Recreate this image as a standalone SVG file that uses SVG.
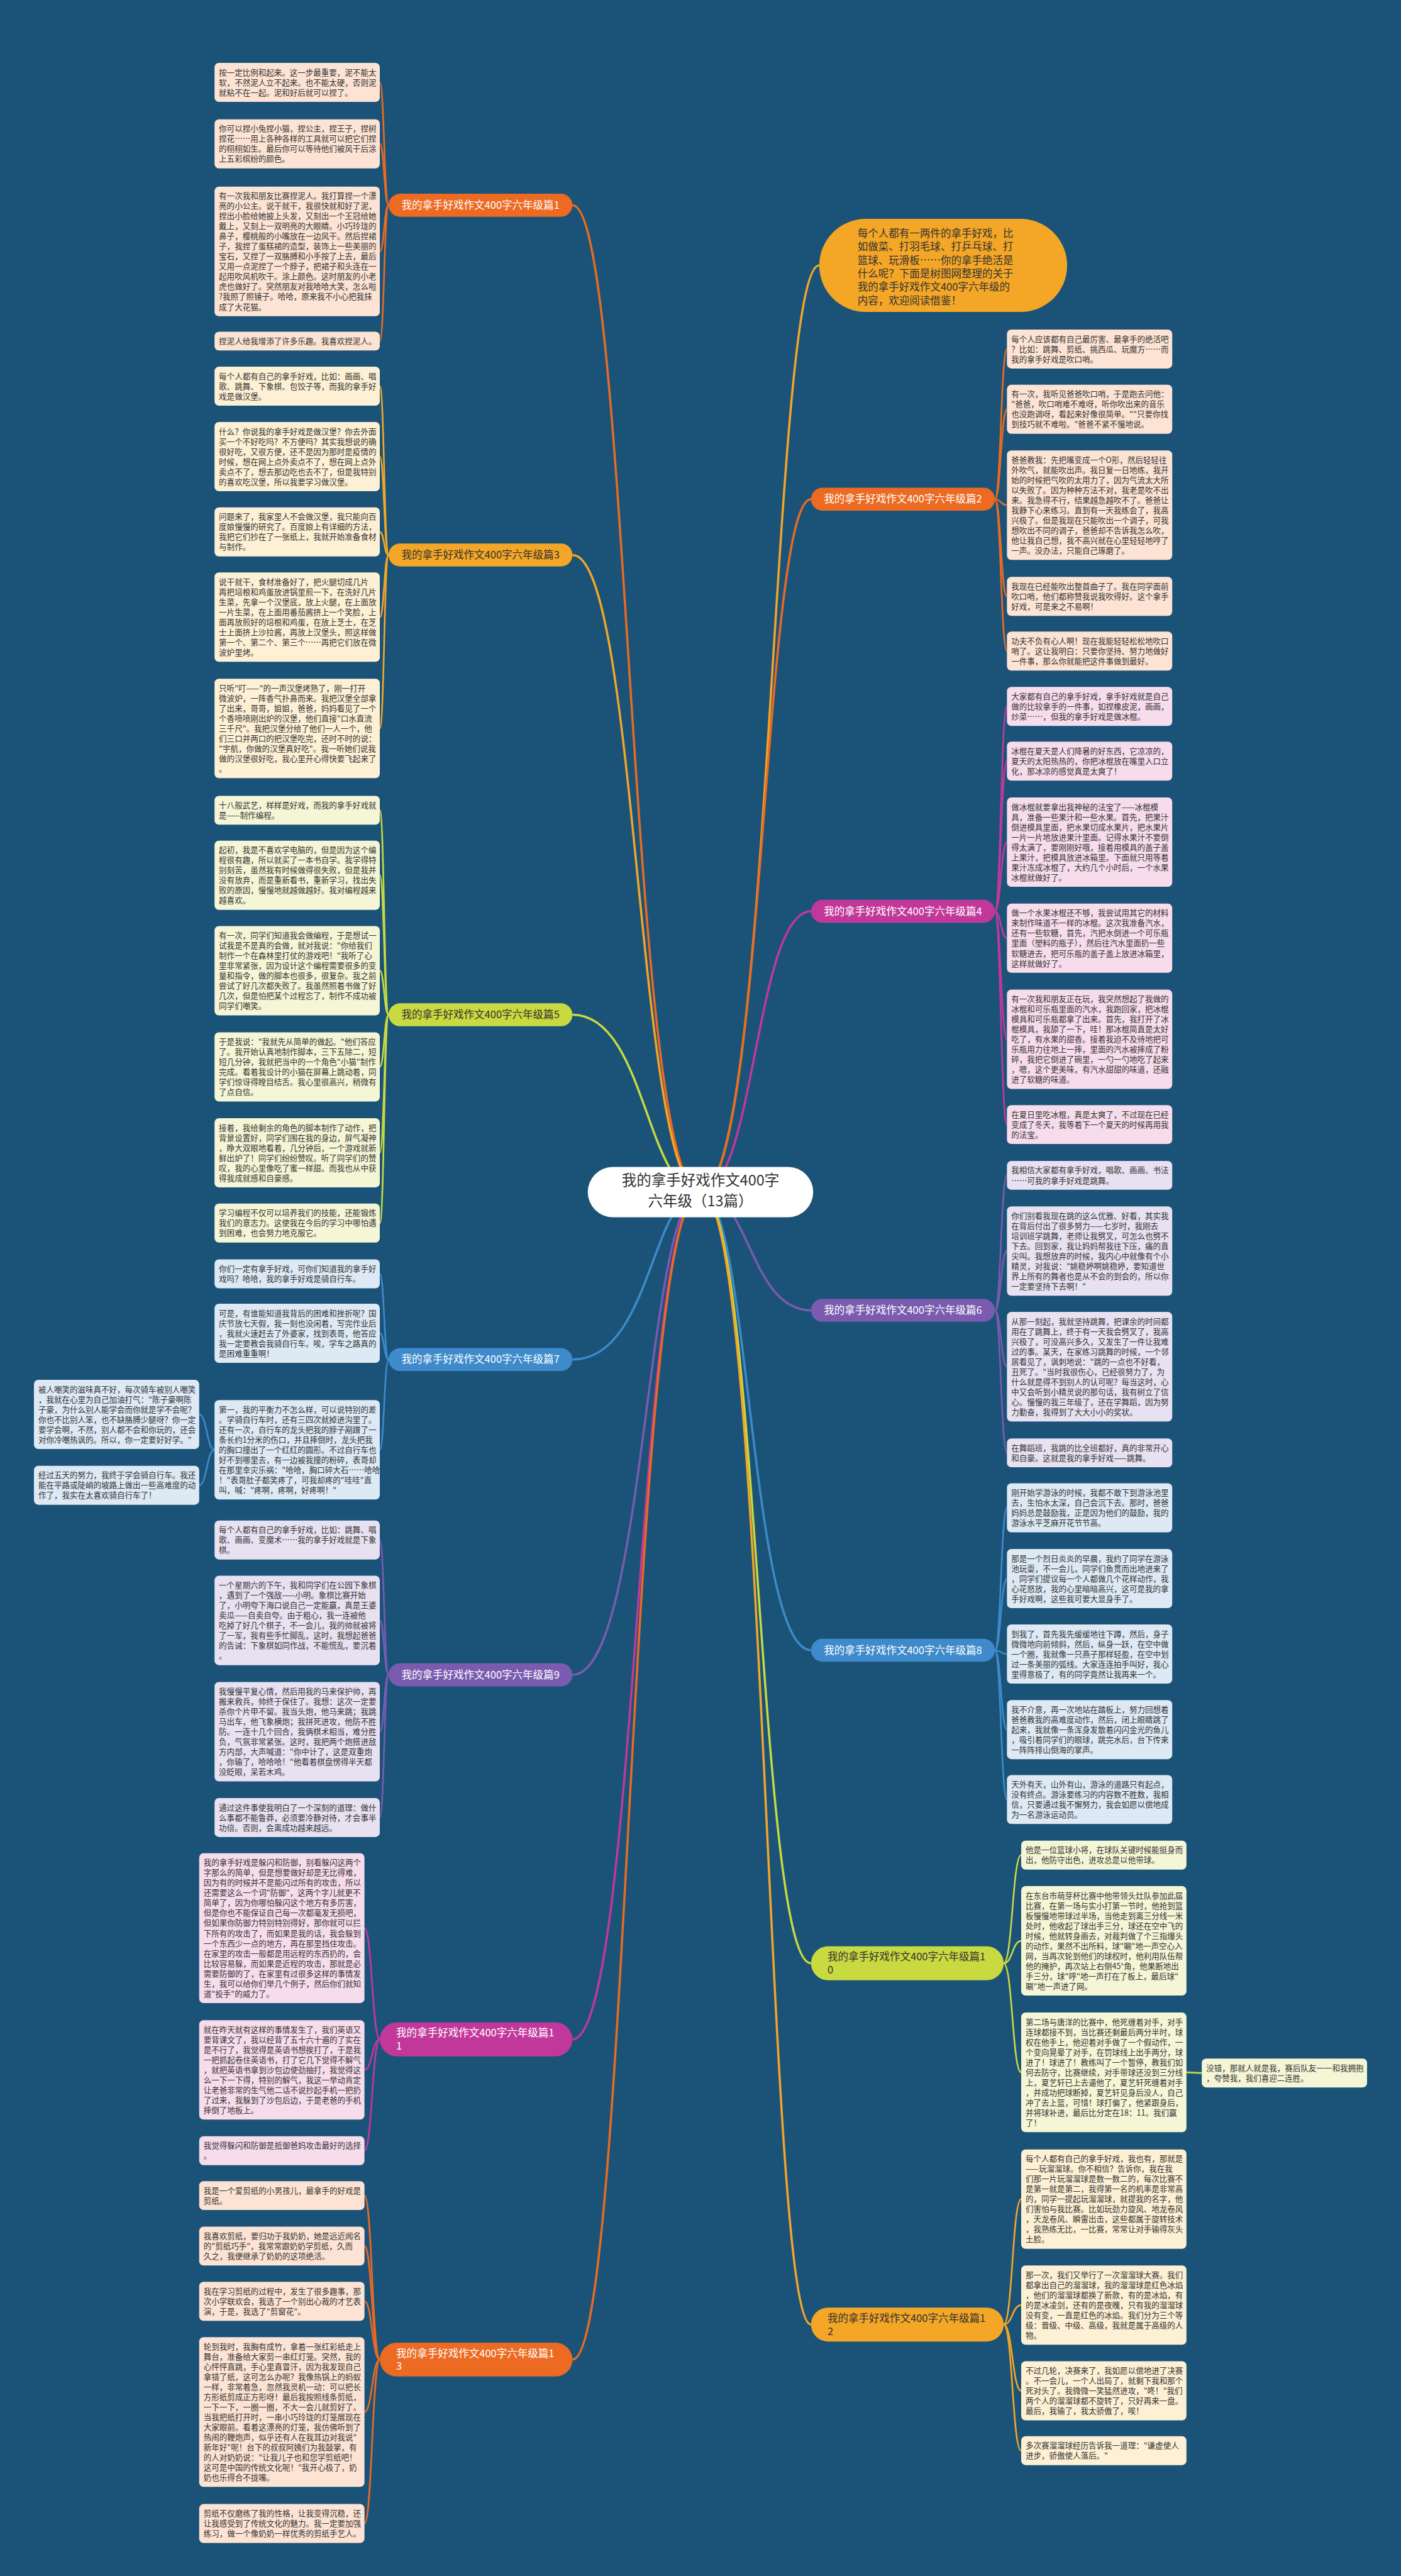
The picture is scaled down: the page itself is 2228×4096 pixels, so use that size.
<svg xmlns="http://www.w3.org/2000/svg" width="2228" height="4096" viewBox="0 0 2228 4096">
<style>
.t{font-family:"Noto Sans CJK SC","Noto Sans",sans-serif;font-size:14.4px;fill:#333}
.l{font-family:"Noto Sans CJK SC","Noto Sans",sans-serif;font-size:19px}
.w{fill:#fff}.d{fill:#333}
.f1{fill:#FDE3D3}.f2{fill:#FDF0D4}.f3{fill:#F5F6D6}.f4{fill:#DDE9F5}.f5{fill:#E7E1F1}.f6{fill:#F7DCEB}
.k1{fill:#EC6A21}.k2{fill:#F4A626}.k3{fill:#C8DA3F}.k4{fill:#3E8ACB}.k5{fill:#7A5BAF}.k6{fill:#C2389A}
.c{fill:none;stroke-width:3}
.c1{stroke:#EC6A21}.c2{stroke:#F4A626}.c3{stroke:#C8DA3F}.c4{stroke:#3E8ACB}.c5{stroke:#7A5BAF}.c6{stroke:#C2389A}
.r{stroke-width:4}
</style>
<rect width="2228" height="4096" fill="#1B5378"/>
<g transform="scale(0.8703)">
<g id="connectors">
<path class="c r c2" d="M1280,2178 C1410,2178 1410,485 1497,485"/>
<path class="c r c1" d="M1280,2178 C1395,2178 1395,912 1482,912"/>
<path class="c r c6" d="M1280,2178 C1380,2178 1380,1665 1482,1665"/>
<path class="c r c5" d="M1280,2178 C1370,2178 1370,2394 1482,2394"/>
<path class="c r c4" d="M1280,2178 C1370,2178 1370,3015 1482,3015"/>
<path class="c r c3" d="M1280,2178 C1385,2178 1385,3587 1482,3587"/>
<path class="c r c2" d="M1280,2178 C1400,2178 1400,4247 1482,4247"/>
<path class="c r c1" d="M1280,2178 C1150,2178 1150,375 1046,375"/>
<path class="c r c2" d="M1280,2178 C1165,2178 1165,1014 1046,1014"/>
<path class="c r c3" d="M1280,2178 C1180,2178 1180,1854 1046,1854"/>
<path class="c r c4" d="M1280,2178 C1190,2178 1190,2484 1046,2484"/>
<path class="c r c5" d="M1280,2178 C1180,2178 1180,3060 1046,3060"/>
<path class="c r c6" d="M1280,2178 C1165,2178 1165,3726 1046,3726"/>
<path class="c r c1" d="M1280,2178 C1150,2178 1150,4311 1046,4311"/>
<!-- 1 -->
<path class="c c1" d="M710,375 C702,375 702,150.6 694,150.6"/>
<path class="c c1" d="M710,375 C702,375 702,262.8 694,262.8"/>
<path class="c c1" d="M710,375 C702,375 702,459.4 694,459.4"/>
<path class="c c1" d="M710,375 C702,375 702,623.2 694,623.2"/>
<!-- 3 -->
<path class="c c2" d="M710,1014 C702,1014 702,705.6 694,705.6"/>
<path class="c c2" d="M710,1014 C702,1014 702,834.2 694,834.2"/>
<path class="c c2" d="M710,1014 C702,1014 702,971.8 694,971.8"/>
<path class="c c2" d="M710,1014 C702,1014 702,1127.6 694,1127.6"/>
<path class="c c2" d="M710,1014 C702,1014 702,1330.8 694,1330.8"/>
<!-- 5 -->
<path class="c c3" d="M710,1854 C702,1854 702,1480.4 694,1480.4"/>
<path class="c c3" d="M710,1854 C702,1854 702,1599.2 694,1599.2"/>
<path class="c c3" d="M710,1854 C702,1854 702,1773.6 694,1773.6"/>
<path class="c c3" d="M710,1854 C702,1854 702,1949.2 694,1949.2"/>
<path class="c c3" d="M710,1854 C702,1854 702,2106.2 694,2106.2"/>
<path class="c c3" d="M710,1854 C702,1854 702,2234.6 694,2234.6"/>
<!-- 7 -->
<path class="c c4" d="M710,2484 C702,2484 702,2327.4 694,2327.4"/>
<path class="c c4" d="M710,2484 C702,2484 702,2436 694,2436"/>
<path class="c c4" d="M710,2484 C702,2484 702,2648.8 694,2648.8"/>
<path class="c c4" d="M392,2648.8 C378,2648.8 378,2584.2 364,2584.2"/>
<path class="c c4" d="M392,2648.8 C378,2648.8 378,2713.6 364,2713.6"/>
<!-- 9 -->
<path class="c c5" d="M710,3060 C702,3060 702,2813.6 694,2813.6"/>
<path class="c c5" d="M710,3060 C702,3060 702,2960.6 694,2960.6"/>
<path class="c c5" d="M710,3060 C702,3060 702,3163.8 694,3163.8"/>
<path class="c c5" d="M710,3060 C702,3060 702,3320.6 694,3320.6"/>
<!-- 11 -->
<path class="c c6" d="M694,3726 C680,3726 680,3522.8 666,3522.8"/>
<path class="c c6" d="M694,3726 C680,3726 680,3781.8 666,3781.8"/>
<path class="c c6" d="M694,3726 C680,3726 680,3929.4 666,3929.4"/>
<!-- 13 -->
<path class="c c1" d="M694,4311 C680,4311 680,4011.4 666,4011.4"/>
<path class="c c1" d="M694,4311 C680,4311 680,4103.6 666,4103.6"/>
<path class="c c1" d="M694,4311 C680,4311 680,4204.6 666,4204.6"/>
<path class="c c1" d="M694,4311 C680,4311 680,4406.8 666,4406.8"/>
<path class="c c1" d="M694,4311 C680,4311 680,4610.6 666,4610.6"/>
<!-- 2 -->
<path class="c c1" d="M1818,912 C1829,912 1829,637.6 1840,637.6"/>
<path class="c c1" d="M1818,912 C1829,912 1829,747.8 1840,747.8"/>
<path class="c c1" d="M1818,912 C1829,912 1829,923 1840,923"/>
<path class="c c1" d="M1818,912 C1829,912 1829,1089.6 1840,1089.6"/>
<path class="c c1" d="M1818,912 C1829,912 1829,1189.6 1840,1189.6"/>
<!-- 4 -->
<path class="c c6" d="M1818,1665 C1829,1665 1829,1290.6 1840,1290.6"/>
<path class="c c6" d="M1818,1665 C1829,1665 1829,1390.6 1840,1390.6"/>
<path class="c c6" d="M1818,1665 C1829,1665 1829,1538.6 1840,1538.6"/>
<path class="c c6" d="M1818,1665 C1829,1665 1829,1714.2 1840,1714.2"/>
<path class="c c6" d="M1818,1665 C1829,1665 1829,1898.8 1840,1898.8"/>
<path class="c c6" d="M1818,1665 C1829,1665 1829,2054.6 1840,2054.6"/>
<!-- 6 -->
<path class="c c5" d="M1818,2394 C1829,2394 1829,2147.4 1840,2147.4"/>
<path class="c c5" d="M1818,2394 C1829,2394 1829,2285.6 1840,2285.6"/>
<path class="c c5" d="M1818,2394 C1829,2394 1829,2497 1840,2497"/>
<path class="c c5" d="M1818,2394 C1829,2394 1829,2654.4 1840,2654.4"/>
<!-- 8 -->
<path class="c c4" d="M1818,3015 C1829,3015 1829,2754.8 1840,2754.8"/>
<path class="c c4" d="M1818,3015 C1829,3015 1829,2884 1840,2884"/>
<path class="c c4" d="M1818,3015 C1829,3015 1829,3022 1840,3022"/>
<path class="c c4" d="M1818,3015 C1829,3015 1829,3160 1840,3160"/>
<path class="c c4" d="M1818,3015 C1829,3015 1829,3287.8 1840,3287.8"/>
<!-- 10 -->
<path class="c c3" d="M1834,3587 C1850,3587 1850,3389.4 1866,3389.4"/>
<path class="c c3" d="M1834,3587 C1850,3587 1850,3546 1866,3546"/>
<path class="c c3" d="M1834,3587 C1850,3587 1850,3786.2 1866,3786.2"/>
<path class="c c3" d="M2168,3786.2 C2182,3786.2 2182,3787.4 2196,3787.4"/>
<!-- 12 -->
<path class="c c2" d="M1834,4247 C1850,4247 1850,4017.8 1866,4017.8"/>
<path class="c c2" d="M1834,4247 C1850,4247 1850,4211.4 1866,4211.4"/>
<path class="c c2" d="M1834,4247 C1850,4247 1850,4368 1866,4368"/>
<path class="c c2" d="M1834,4247 C1850,4247 1850,4477.4 1866,4477.4"/>
</g>

<g id="root">
<rect x="1074" y="2132" width="412" height="92" rx="46" fill="#fff"/>
<text class="l" x="1280" y="2166" text-anchor="middle" style="font-size:27px" fill="#333">我的拿手好戏作文400字</text>
<text class="l" x="1280" y="2204" text-anchor="middle" style="font-size:27px" fill="#333">六年级（13篇）</text>
</g>

<g id="intro">
<rect x="1497" y="400" width="453" height="170" rx="85" class="k2"/>
<text class="l d" x="1567" y="433"><tspan x="1567">每个人都有一两件的拿手好戏，比</tspan><tspan x="1567" dy="24.6">如做菜、打羽毛球、打乒乓球、打</tspan><tspan x="1567" dy="24.6">篮球、玩滑板……你的拿手绝活是</tspan><tspan x="1567" dy="24.6">什么呢？下面是树图网整理的关于</tspan><tspan x="1567" dy="24.6">我的拿手好戏作文400字六年级的</tspan><tspan x="1567" dy="24.6">内容，欢迎阅读借鉴！</tspan></text>
</g>

<!-- Branch labels -->
<g id="b1"><rect x="710" y="354" width="336" height="42" rx="21" class="k1"/><text class="l w" x="878" y="381.5" text-anchor="middle">我的拿手好戏作文400字六年级篇1</text></g>
<g id="b3"><rect x="710" y="993" width="336" height="42" rx="21" class="k2"/><text class="l d" x="878" y="1020.5" text-anchor="middle">我的拿手好戏作文400字六年级篇3</text></g>
<g id="b5"><rect x="710" y="1833" width="336" height="42" rx="21" class="k3"/><text class="l d" x="878" y="1860.5" text-anchor="middle">我的拿手好戏作文400字六年级篇5</text></g>
<g id="b7"><rect x="710" y="2463" width="336" height="42" rx="21" class="k4"/><text class="l w" x="878" y="2490.5" text-anchor="middle">我的拿手好戏作文400字六年级篇7</text></g>
<g id="b9"><rect x="710" y="3039" width="336" height="42" rx="21" class="k5"/><text class="l w" x="878" y="3066.5" text-anchor="middle">我的拿手好戏作文400字六年级篇9</text></g>
<g id="b11"><rect x="694" y="3695" width="352" height="62" rx="31" class="k6"/><text class="l w" x="724" y="3721"><tspan x="724">我的拿手好戏作文400字六年级篇1</tspan><tspan x="724" dy="24">1</tspan></text></g>
<g id="b13"><rect x="694" y="4280" width="352" height="62" rx="31" class="k1"/><text class="l w" x="724" y="4306"><tspan x="724">我的拿手好戏作文400字六年级篇1</tspan><tspan x="724" dy="24">3</tspan></text></g>
<g id="b2"><rect x="1482" y="891" width="336" height="42" rx="21" class="k1"/><text class="l w" x="1650" y="918.5" text-anchor="middle">我的拿手好戏作文400字六年级篇2</text></g>
<g id="b4"><rect x="1482" y="1644" width="336" height="42" rx="21" class="k6"/><text class="l w" x="1650" y="1671.5" text-anchor="middle">我的拿手好戏作文400字六年级篇4</text></g>
<g id="b6"><rect x="1482" y="2373" width="336" height="42" rx="21" class="k5"/><text class="l w" x="1650" y="2400.5" text-anchor="middle">我的拿手好戏作文400字六年级篇6</text></g>
<g id="b8"><rect x="1482" y="2994" width="336" height="42" rx="21" class="k4"/><text class="l w" x="1650" y="3021.5" text-anchor="middle">我的拿手好戏作文400字六年级篇8</text></g>
<g id="b10"><rect x="1482" y="3556" width="352" height="62" rx="31" class="k3"/><text class="l d" x="1512" y="3582"><tspan x="1512">我的拿手好戏作文400字六年级篇1</tspan><tspan x="1512" dy="24">0</tspan></text></g>
<g id="b12"><rect x="1482" y="4216" width="352" height="62" rx="31" class="k2"/><text class="l d" x="1512" y="4242"><tspan x="1512">我的拿手好戏作文400字六年级篇1</tspan><tspan x="1512" dy="24">2</tspan></text></g>

<!-- 篇1 children -->
<g id="n1a"><rect x="392" y="115" width="302" height="71.2" rx="8" class="f1"/><text class="t" x="400" y="137.5"><tspan x="400">按一定比例和起来。这一步最重要，泥不能太</tspan><tspan x="400" dy="18.4">软，不然泥人立不起来。也不能太硬，否则泥</tspan><tspan x="400" dy="18.4">就粘不在一起。泥和好后就可以捏了。</tspan></text></g>
<g id="n1b"><rect x="392" y="218" width="302" height="89.6" rx="8" class="f1"/><text class="t" x="400" y="240.5"><tspan x="400">你可以捏小兔捏小猫，捏公主，捏王子，捏树</tspan><tspan x="400" dy="18.4">捏花……用上各种各样的工具就可以把它们捏</tspan><tspan x="400" dy="18.4">的栩栩如生。最后你可以等待他们被风干后涂</tspan><tspan x="400" dy="18.4">上五彩缤纷的颜色。</tspan></text></g>
<g id="n1c"><rect x="392" y="341" width="302" height="236.8" rx="8" class="f1"/><text class="t" x="400" y="363.5"><tspan x="400">有一次我和朋友比赛捏泥人。我打算捏一个漂</tspan><tspan x="400" dy="18.4">亮的小公主。说干就干，我很快就和好了泥，</tspan><tspan x="400" dy="18.4">捏出小脸给她披上头发，又刻出一个王冠给她</tspan><tspan x="400" dy="18.4">戴上，又刻上一双明亮的大眼睛。小巧玲珑的</tspan><tspan x="400" dy="18.4">鼻子，樱桃般的小嘴放在一边风干。然后捏裙</tspan><tspan x="400" dy="18.4">子，我捏了蛋糕裙的造型，装饰上一些美丽的</tspan><tspan x="400" dy="18.4">宝石，又捏了一双胳膊和小手按了上去，最后</tspan><tspan x="400" dy="18.4">又用一点泥捏了一个脖子，把裙子和头连在一</tspan><tspan x="400" dy="18.4">起用吹风机吹干。涂上颜色。这时朋友的小老</tspan><tspan x="400" dy="18.4">虎也做好了。突然朋友对我哈哈大笑，怎么啦</tspan><tspan x="400" dy="18.4">?我照了照镜子。哈哈，原来我不小心把我抹</tspan><tspan x="400" dy="18.4">成了大花猫。</tspan></text></g>
<g id="n1d"><rect x="392" y="606" width="302" height="34.4" rx="8" class="f1"/><text class="t" x="400" y="628.5">捏泥人给我增添了许多乐趣。我喜欢捏泥人。</text></g>

<!-- 篇3 children -->
<g id="n3a"><rect x="392" y="670" width="302" height="71.2" rx="8" class="f2"/><text class="t" x="400" y="692.5"><tspan x="400">每个人都有自己的拿手好戏，比如：画画、唱</tspan><tspan x="400" dy="18.4">歌、跳舞、下象棋、包饺子等，而我的拿手好</tspan><tspan x="400" dy="18.4">戏是做汉堡。</tspan></text></g>
<g id="n3b"><rect x="392" y="771" width="302" height="126.4" rx="8" class="f2"/><text class="t" x="400" y="793.5"><tspan x="400">什么？你说我的拿手好戏是做汉堡？你去外面</tspan><tspan x="400" dy="18.4">买一个不好吃吗？不方便吗？其实我想说的确</tspan><tspan x="400" dy="18.4">很好吃，又很方便，还不是因为那时是疫情的</tspan><tspan x="400" dy="18.4">时候，想在网上点外卖点不了，想在网上点外</tspan><tspan x="400" dy="18.4">卖点不了，想去那边吃也去不了，但是我特别</tspan><tspan x="400" dy="18.4">的喜欢吃汉堡，所以我要学习做汉堡。</tspan></text></g>
<g id="n3c"><rect x="392" y="927" width="302" height="89.6" rx="8" class="f2"/><text class="t" x="400" y="949.5"><tspan x="400">问题来了，我家里人不会做汉堡，我只能向百</tspan><tspan x="400" dy="18.4">度娘慢慢的研究了。百度娘上有详细的方法，</tspan><tspan x="400" dy="18.4">我把它们抄在了一张纸上，我就开始准备食材</tspan><tspan x="400" dy="18.4">与制作。</tspan></text></g>
<g id="n3d"><rect x="392" y="1046" width="302" height="163.2" rx="8" class="f2"/><text class="t" x="400" y="1068.5"><tspan x="400">说干就干，食材准备好了，把火腿切成几片</tspan><tspan x="400" dy="18.4">再把培根和鸡蛋放进锅里煎一下，在洗好几片</tspan><tspan x="400" dy="18.4">生菜，先拿一个汉堡底，放上火腿，在上面放</tspan><tspan x="400" dy="18.4">一片生菜，在上面用番茄酱挤上一个笑脸，上</tspan><tspan x="400" dy="18.4">面再放煎好的培根和鸡蛋，在放上芝士，在芝</tspan><tspan x="400" dy="18.4">士上面挤上沙拉酱，再放上汉堡头，照这样做</tspan><tspan x="400" dy="18.4">第一个、第二个、第三个……再把它们放在微</tspan><tspan x="400" dy="18.4">波炉里烤。</tspan></text></g>
<g id="n3e"><rect x="392" y="1240" width="302" height="181.6" rx="8" class="f2"/><text class="t" x="400" y="1262.5"><tspan x="400">只听"叮——"的一声汉堡烤熟了，刚一打开</tspan><tspan x="400" dy="18.4">微波炉，一阵香气扑鼻而来。我把汉堡全部拿</tspan><tspan x="400" dy="18.4">了出来，哥哥，姐姐，爸爸，妈妈看见了一个</tspan><tspan x="400" dy="18.4">个香喷喷刚出炉的汉堡，他们直接"口水直流</tspan><tspan x="400" dy="18.4">三千尺"。我把汉堡分给了他们一人一个，他</tspan><tspan x="400" dy="18.4">们三口并两口的把汉堡吃完，还时不时的说：</tspan><tspan x="400" dy="18.4">"宇航，你做的汉堡真好吃"。我一听她们说我</tspan><tspan x="400" dy="18.4">做的汉堡很好吃，我心里开心得快要飞起来了</tspan><tspan x="400" dy="18.4">。</tspan></text></g>

<!-- 篇5 children -->
<g id="n5a"><rect x="392" y="1454" width="302" height="52.8" rx="8" class="f3"/><text class="t" x="400" y="1476.5"><tspan x="400">十八般武艺，样样是好戏，而我的拿手好戏就</tspan><tspan x="400" dy="18.4">是——制作编程。</tspan></text></g>
<g id="n5b"><rect x="392" y="1536" width="302" height="126.4" rx="8" class="f3"/><text class="t" x="400" y="1558.5"><tspan x="400">起初，我是不喜欢学电脑的，但是因为这个编</tspan><tspan x="400" dy="18.4">程很有趣，所以就买了一本书自学。我学得特</tspan><tspan x="400" dy="18.4">别刻苦，虽然我有时候做得很失败，但是我并</tspan><tspan x="400" dy="18.4">没有放弃，而是重新看书，重新学习，找出失</tspan><tspan x="400" dy="18.4">败的原因，慢慢地就越做越好。我对编程越来</tspan><tspan x="400" dy="18.4">越喜欢。</tspan></text></g>
<g id="n5c"><rect x="392" y="1692" width="302" height="163.2" rx="8" class="f3"/><text class="t" x="400" y="1714.5"><tspan x="400">有一次，同学们知道我会做编程，于是想试一</tspan><tspan x="400" dy="18.4">试我是不是真的会做，就对我说："你给我们</tspan><tspan x="400" dy="18.4">制作一个在森林里打仗的游戏吧！"我听了心</tspan><tspan x="400" dy="18.4">里非常紧张，因为设计这个编程需要很多的变</tspan><tspan x="400" dy="18.4">量和指令，做的脚本也很多，很复杂。我之前</tspan><tspan x="400" dy="18.4">尝试了好几次都失败了。我虽然照着书做了好</tspan><tspan x="400" dy="18.4">几次，但是怕把某个过程忘了，制作不成功被</tspan><tspan x="400" dy="18.4">同学们嘲笑。</tspan></text></g>
<g id="n5d"><rect x="392" y="1886" width="302" height="126.4" rx="8" class="f3"/><text class="t" x="400" y="1908.5"><tspan x="400">于是我说："我就先从简单的做起。"他们答应</tspan><tspan x="400" dy="18.4">了。我开始认真地制作脚本，三下五除二，短</tspan><tspan x="400" dy="18.4">短几分钟，我就把当中的一个角色"小猫"制作</tspan><tspan x="400" dy="18.4">完成。看着我设计的小猫在屏幕上跳动着，同</tspan><tspan x="400" dy="18.4">学们惊讶得瞠目结舌。我心里很高兴，稍微有</tspan><tspan x="400" dy="18.4">了点自信。</tspan></text></g>
<g id="n5e"><rect x="392" y="2043" width="302" height="126.4" rx="8" class="f3"/><text class="t" x="400" y="2065.5"><tspan x="400">接着，我给剩余的角色的脚本制作了动作，把</tspan><tspan x="400" dy="18.4">背景设置好，同学们围在我的身边，屏气凝神</tspan><tspan x="400" dy="18.4">，睁大双眼地看着，几分钟后，一个游戏就新</tspan><tspan x="400" dy="18.4">鲜出炉了！同学们纷纷赞叹。听了同学们的赞</tspan><tspan x="400" dy="18.4">叹，我的心里像吃了蜜一样甜。而我也从中获</tspan><tspan x="400" dy="18.4">得我成就感和自豪感。</tspan></text></g>
<g id="n5f"><rect x="392" y="2199" width="302" height="71.2" rx="8" class="f3"/><text class="t" x="400" y="2221.5"><tspan x="400">学习编程不仅可以培养我们的技能，还能锻炼</tspan><tspan x="400" dy="18.4">我们的意志力。这使我在今后的学习中哪怕遇</tspan><tspan x="400" dy="18.4">到困难，也会努力地克服它。</tspan></text></g>

<!-- 篇7 children -->
<g id="n7a"><rect x="392" y="2301" width="302" height="52.8" rx="8" class="f4"/><text class="t" x="400" y="2323.5"><tspan x="400">你们一定有拿手好戏，可你们知道我的拿手好</tspan><tspan x="400" dy="18.4">戏吗？哈哈，我的拿手好戏是骑自行车。</tspan></text></g>
<g id="n7b"><rect x="392" y="2382" width="302" height="108" rx="8" class="f4"/><text class="t" x="400" y="2404.5"><tspan x="400">可是，有谁能知道我背后的困难和挫折呢？国</tspan><tspan x="400" dy="18.4">庆节放七天假，我一刻也没闲着，写完作业后</tspan><tspan x="400" dy="18.4">，我就火速赶去了外婆家，找到表哥，他答应</tspan><tspan x="400" dy="18.4">我一定要教会我骑自行车。唉，学车之路真的</tspan><tspan x="400" dy="18.4">是困难重重啊！</tspan></text></g>
<g id="n7c"><rect x="392" y="2558" width="302" height="181.6" rx="8" class="f4"/><text class="t" x="400" y="2580.5"><tspan x="400">第一，我的平衡力不怎么样，可以说特别的差</tspan><tspan x="400" dy="18.4">。学骑自行车时，还有三四次就掉进沟里了。</tspan><tspan x="400" dy="18.4">还有一次，自行车的龙头把我的脖子剐蹭了一</tspan><tspan x="400" dy="18.4">条长约1分米的伤口，并且摔倒时，龙头把我</tspan><tspan x="400" dy="18.4">的胸口撞出了一个红红的圆形。不过自行车也</tspan><tspan x="400" dy="18.4">好不到哪里去，有一边被我撞的粉碎，表哥却</tspan><tspan x="400" dy="18.4">在那里幸灾乐祸："哈哈，胸口碎大石……哈哈</tspan><tspan x="400" dy="18.4">！"表哥肚子都笑疼了，可我却疼的"哇哇"直</tspan><tspan x="400" dy="18.4">叫，喊："疼啊，疼啊，好疼啊！"</tspan></text></g>
<g id="n7c1"><rect x="62" y="2521" width="302" height="126.4" rx="8" class="f4"/><text class="t" x="70" y="2543.5"><tspan x="70">被人嘲笑的滋味真不好，每次骑车被别人嘲笑</tspan><tspan x="70" dy="18.4">，我就在心里为自己加油打气："陈子豪啊陈</tspan><tspan x="70" dy="18.4">子豪，为什么别人能学会而你就是学不会呢？</tspan><tspan x="70" dy="18.4">你也不比别人笨，也不缺胳膊少腿呀？你一定</tspan><tspan x="70" dy="18.4">要学会啊，不然，别人都不会和你玩的，还会</tspan><tspan x="70" dy="18.4">对你冷嘲热讽的。所以，你一定要好好学。"</tspan></text></g>
<g id="n7c2"><rect x="62" y="2678" width="302" height="71.2" rx="8" class="f4"/><text class="t" x="70" y="2700.5"><tspan x="70">经过五天的努力，我终于学会骑自行车。我还</tspan><tspan x="70" dy="18.4">能在平路或陡峭的坡路上做出一些高难度的动</tspan><tspan x="70" dy="18.4">作了，我实在太喜欢骑自行车了！</tspan></text></g>

<!-- 篇9 children -->
<g id="n9a"><rect x="392" y="2778" width="302" height="71.2" rx="8" class="f5"/><text class="t" x="400" y="2800.5"><tspan x="400">每个人都有自己的拿手好戏，比如：跳舞、唱</tspan><tspan x="400" dy="18.4">歌、画画、变魔术……我的拿手好戏就是下象</tspan><tspan x="400" dy="18.4">棋。</tspan></text></g>
<g id="n9b"><rect x="392" y="2879" width="302" height="163.2" rx="8" class="f5"/><text class="t" x="400" y="2901.5"><tspan x="400">一个星期六的下午，我和同学们在公园下象棋</tspan><tspan x="400" dy="18.4">，遇到了一个强敌——小明。象棋比赛开始</tspan><tspan x="400" dy="18.4">了，小明夸下海口说自己一定能赢，真是王婆</tspan><tspan x="400" dy="18.4">卖瓜——自卖自夸。由于粗心，我一连被他</tspan><tspan x="400" dy="18.4">吃掉了好几个棋子，不一会儿，我的帅就被将</tspan><tspan x="400" dy="18.4">了一军，我有些手忙脚乱，这时，我想起爸爸</tspan><tspan x="400" dy="18.4">的告诫：下象棋如同作战，不能慌乱，要沉着</tspan><tspan x="400" dy="18.4">。</tspan></text></g>
<g id="n9c"><rect x="392" y="3073" width="302" height="181.6" rx="8" class="f5"/><text class="t" x="400" y="3095.5"><tspan x="400">我慢慢平复心情，然后用我的马来保护帅，再</tspan><tspan x="400" dy="18.4">搬来救兵，帅终于保住了。我想：这次一定要</tspan><tspan x="400" dy="18.4">杀你个片甲不留。我当头炮，他马来跳；我跳</tspan><tspan x="400" dy="18.4">马出车，他飞象横炮；我拼死进攻，他防不胜</tspan><tspan x="400" dy="18.4">防。一连十几个回合，我俩棋术相当，难分胜</tspan><tspan x="400" dy="18.4">负，气氛非常紧张。这时，我把两个炮搭进敌</tspan><tspan x="400" dy="18.4">方内部，大声喊道："你中计了，这是双重炮</tspan><tspan x="400" dy="18.4">，你输了，哈哈哈！"他看着棋盘愣得半天都</tspan><tspan x="400" dy="18.4">没眨眼，呆若木鸡。</tspan></text></g>
<g id="n9d"><rect x="392" y="3285" width="302" height="71.2" rx="8" class="f5"/><text class="t" x="400" y="3307.5"><tspan x="400">通过这件事使我明白了一个深刻的道理：做什</tspan><tspan x="400" dy="18.4">么事都不能鲁莽，必须要冷静对待，才会事半</tspan><tspan x="400" dy="18.4">功倍。否则，会离成功越来越远。</tspan></text></g>

<!-- 篇11 children -->
<g id="n11a"><rect x="364" y="3386" width="302" height="273.6" rx="8" class="f6"/><text class="t" x="372" y="3408.5"><tspan x="372">我的拿手好戏是躲闪和防御，别看躲闪这两个</tspan><tspan x="372" dy="18.4">字那么的简单，但是想要做好却是无比得难，</tspan><tspan x="372" dy="18.4">因为有的时候并不是能闪过所有的攻击，所以</tspan><tspan x="372" dy="18.4">还需要这么一个词"防御"，这两个字儿就更不</tspan><tspan x="372" dy="18.4">简单了，因为你哪怕躲闪这个地方有多厉害，</tspan><tspan x="372" dy="18.4">但是你也不能保证自己每一次都毫发无损吧，</tspan><tspan x="372" dy="18.4">但如果你防御力特别特别得好，那你就可以拦</tspan><tspan x="372" dy="18.4">下所有的攻击了，而如果是我的话，我会躲到</tspan><tspan x="372" dy="18.4">一个东西少一点的地方，再在那里挡住攻击。</tspan><tspan x="372" dy="18.4">在家里的攻击一般都是用远程的东西扔的，会</tspan><tspan x="372" dy="18.4">比较容易躲，而如果是近程的攻击，那就是必</tspan><tspan x="372" dy="18.4">需要防御的了，在家里有过很多这样的事情发</tspan><tspan x="372" dy="18.4">生，我可以给你们举几个例子，然后你们就知</tspan><tspan x="372" dy="18.4">道"投手"的威力了。</tspan></text></g>
<g id="n11b"><rect x="364" y="3691" width="302" height="181.6" rx="8" class="f6"/><text class="t" x="372" y="3713.5"><tspan x="372">就在昨天就有这样的事情发生了，我们英语又</tspan><tspan x="372" dy="18.4">要背课文了，我以经背了五十六十遍的了实在</tspan><tspan x="372" dy="18.4">是不行了，我觉得是英语书想挨打了，于是我</tspan><tspan x="372" dy="18.4">一把抓起卷住英语书，打了它几下觉得不解气</tspan><tspan x="372" dy="18.4">，就把英语书拿到沙包边使劲抽打，我觉得这</tspan><tspan x="372" dy="18.4">么一下一下得，特别的解气，我这一举动肯定</tspan><tspan x="372" dy="18.4">让老爸非常的生气他二话不说抄起手机一把扔</tspan><tspan x="372" dy="18.4">了过来，我躲到了沙包后边，于是老爸的手机</tspan><tspan x="372" dy="18.4">摔倒了地板上。</tspan></text></g>
<g id="n11c"><rect x="364" y="3903" width="302" height="52.8" rx="8" class="f6"/><text class="t" x="372" y="3925.5"><tspan x="372">我觉得躲闪和防御是抵御爸妈攻击最好的选择</tspan><tspan x="372" dy="18.4">。</tspan></text></g>

<!-- 篇13 children -->
<g id="n13a"><rect x="364" y="3985" width="302" height="52.8" rx="8" class="f1"/><text class="t" x="372" y="4007.5"><tspan x="372">我是一个爱剪纸的小男孩儿，最拿手的好戏是</tspan><tspan x="372" dy="18.4">剪纸。</tspan></text></g>
<g id="n13b"><rect x="364" y="4068" width="302" height="71.2" rx="8" class="f1"/><text class="t" x="372" y="4090.5"><tspan x="372">我喜欢剪纸，要归功于我奶奶，她是远近闻名</tspan><tspan x="372" dy="18.4">的"剪纸巧手"，我常常跟奶奶学剪纸，久而</tspan><tspan x="372" dy="18.4">久之，我便继承了奶奶的这项绝活。</tspan></text></g>
<g id="n13c"><rect x="364" y="4169" width="302" height="71.2" rx="8" class="f1"/><text class="t" x="372" y="4191.5"><tspan x="372">我在学习剪纸的过程中，发生了很多趣事，那</tspan><tspan x="372" dy="18.4">次小学联欢会，我选了一个别出心裁的才艺表</tspan><tspan x="372" dy="18.4">演，于是，我选了"剪窗花"。</tspan></text></g>
<g id="n13d"><rect x="364" y="4270" width="302" height="273.6" rx="8" class="f1"/><text class="t" x="372" y="4292.5"><tspan x="372">轮到我时，我胸有成竹，拿着一张红彩纸走上</tspan><tspan x="372" dy="18.4">舞台，准备给大家剪一串红灯笼。突然，我的</tspan><tspan x="372" dy="18.4">心怦怦直跳，手心里直冒汗，因为我发现自己</tspan><tspan x="372" dy="18.4">拿错了纸，这可怎么办呢？我像热锅上的蚂蚁</tspan><tspan x="372" dy="18.4">一样，非常着急，忽然我灵机一动：可以把长</tspan><tspan x="372" dy="18.4">方形纸剪成正方形呀！最后我按照线条剪纸，</tspan><tspan x="372" dy="18.4">一下一下，一圈一圈，不大一会儿就剪好了。</tspan><tspan x="372" dy="18.4">当我把纸打开时，一串小巧玲珑的灯笼展现在</tspan><tspan x="372" dy="18.4">大家眼前。看着这漂亮的灯笼，我仿佛听到了</tspan><tspan x="372" dy="18.4">热闹的鞭炮声，似乎还有人在我耳边对我说"</tspan><tspan x="372" dy="18.4">新年好"呢！台下的叔叔阿姨们为我鼓掌，有</tspan><tspan x="372" dy="18.4">的人对奶奶说："让我儿子也和您学剪纸吧！</tspan><tspan x="372" dy="18.4">这可是中国的传统文化呢！"我开心极了，奶</tspan><tspan x="372" dy="18.4">奶也乐得合不拢嘴。</tspan></text></g>
<g id="n13e"><rect x="364" y="4575" width="302" height="71.2" rx="8" class="f1"/><text class="t" x="372" y="4597.5"><tspan x="372">剪纸不仅磨练了我的性格，让我变得沉稳，还</tspan><tspan x="372" dy="18.4">让我感受到了传统文化的魅力。我一定要加强</tspan><tspan x="372" dy="18.4">练习，做一个像奶奶一样优秀的剪纸手艺人。</tspan></text></g>

<!-- 篇2 children -->
<g id="n2a"><rect x="1840" y="602" width="302" height="71.2" rx="8" class="f1"/><text class="t" x="1848" y="624.5"><tspan x="1848">每个人应该都有自己最厉害、最拿手的绝活吧</tspan><tspan x="1848" dy="18.4">？比如：跳舞、剪纸、挑西瓜、玩魔方……而</tspan><tspan x="1848" dy="18.4">我的拿手好戏是吹口哨。</tspan></text></g>
<g id="n2b"><rect x="1840" y="703" width="302" height="89.6" rx="8" class="f1"/><text class="t" x="1848" y="725.5"><tspan x="1848">有一次，我听见爸爸吹口哨，于是跑去问他：</tspan><tspan x="1848" dy="18.4">"爸爸，吹口哨难不难呀，听你吹出来的音乐</tspan><tspan x="1848" dy="18.4">也没跑调呀，看起来好像很简单。""只要你找</tspan><tspan x="1848" dy="18.4">到技巧就不难啦。"爸爸不紧不慢地说。</tspan></text></g>
<g id="n2c"><rect x="1840" y="823" width="302" height="200" rx="8" class="f1"/><text class="t" x="1848" y="845.5"><tspan x="1848">爸爸教我：先把嘴变成一个O形，然后轻轻往</tspan><tspan x="1848" dy="18.4">外吹气，就能吹出声。我日复一日地练，我开</tspan><tspan x="1848" dy="18.4">始的时候把气吹的太用力了，因为气流太大所</tspan><tspan x="1848" dy="18.4">以失败了。因为种种方法不对，我老是吹不出</tspan><tspan x="1848" dy="18.4">来。我急得不行，结果越急越吹不了。爸爸让</tspan><tspan x="1848" dy="18.4">我静下心来练习。直到有一天我练会了，我高</tspan><tspan x="1848" dy="18.4">兴极了。但是我现在只能吹出一个调子，可我</tspan><tspan x="1848" dy="18.4">想吹出不同的调子，爸爸却不告诉我怎么吹，</tspan><tspan x="1848" dy="18.4">他让我自己想，我不高兴就在心里轻轻地哼了</tspan><tspan x="1848" dy="18.4">一声。没办法，只能自己琢磨了。</tspan></text></g>
<g id="n2d"><rect x="1840" y="1054" width="302" height="71.2" rx="8" class="f1"/><text class="t" x="1848" y="1076.5"><tspan x="1848">我现在已经能吹出整首曲子了。我在同学面前</tspan><tspan x="1848" dy="18.4">吹口哨，他们都称赞我说我吹得好。这个拿手</tspan><tspan x="1848" dy="18.4">好戏，可是来之不易啊！</tspan></text></g>
<g id="n2e"><rect x="1840" y="1154" width="302" height="71.2" rx="8" class="f1"/><text class="t" x="1848" y="1176.5"><tspan x="1848">功夫不负有心人啊！现在我能轻轻松松地吹口</tspan><tspan x="1848" dy="18.4">哨了。这让我明白：只要你坚持、努力地做好</tspan><tspan x="1848" dy="18.4">一件事，那么你就能把这件事做到最好。</tspan></text></g>

<!-- 篇4 children -->
<g id="n4a"><rect x="1840" y="1255" width="302" height="71.2" rx="8" class="f6"/><text class="t" x="1848" y="1277.5"><tspan x="1848">大家都有自己的拿手好戏，拿手好戏就是自己</tspan><tspan x="1848" dy="18.4">做的比较拿手的一件事，如捏橡皮泥，画画，</tspan><tspan x="1848" dy="18.4">炒菜……，但我的拿手好戏是做冰棍。</tspan></text></g>
<g id="n4b"><rect x="1840" y="1355" width="302" height="71.2" rx="8" class="f6"/><text class="t" x="1848" y="1377.5"><tspan x="1848">冰棍在夏天是人们降暑的好东西，它凉凉的，</tspan><tspan x="1848" dy="18.4">夏天的太阳热热的，你把冰棍放在嘴里入口立</tspan><tspan x="1848" dy="18.4">化，那冰凉的感觉真是太爽了！</tspan></text></g>
<g id="n4c"><rect x="1840" y="1457" width="302" height="163.2" rx="8" class="f6"/><text class="t" x="1848" y="1479.5"><tspan x="1848">做冰棍就要拿出我神秘的法宝了——冰棍模</tspan><tspan x="1848" dy="18.4">具，准备一些果汁和一些水果。首先，把果汁</tspan><tspan x="1848" dy="18.4">倒进模具里面，把水果切成水果片，把水果片</tspan><tspan x="1848" dy="18.4">一片一片地放进果汁里面。记得水果汁不要倒</tspan><tspan x="1848" dy="18.4">得太满了，要刚刚好哦，接着用模具的盖子盖</tspan><tspan x="1848" dy="18.4">上果汁，把模具放进冰箱里。下面就只用等着</tspan><tspan x="1848" dy="18.4">果汁冻成冰棍了，大约几个小时后，一个水果</tspan><tspan x="1848" dy="18.4">冰棍就做好了。</tspan></text></g>
<g id="n4d"><rect x="1840" y="1651" width="302" height="126.4" rx="8" class="f6"/><text class="t" x="1848" y="1673.5"><tspan x="1848">做一个水果冰棍还不够，我尝试用其它的材料</tspan><tspan x="1848" dy="18.4">来制作味道不一样的冰棍。这次我准备汽水，</tspan><tspan x="1848" dy="18.4">还有一些软糖，首先，汽把水倒进一个可乐瓶</tspan><tspan x="1848" dy="18.4">里面（塑料的瓶子），然后往汽水里面扔一些</tspan><tspan x="1848" dy="18.4">软糖进去，把可乐瓶的盖子盖上放进冰箱里，</tspan><tspan x="1848" dy="18.4">这样就做好了。</tspan></text></g>
<g id="n4e"><rect x="1840" y="1808" width="302" height="181.6" rx="8" class="f6"/><text class="t" x="1848" y="1830.5"><tspan x="1848">有一次我和朋友正在玩，我突然想起了我做的</tspan><tspan x="1848" dy="18.4">冰棍和可乐瓶里面的汽水，我跑回家，把冰棍</tspan><tspan x="1848" dy="18.4">模具和可乐瓶都拿了出来。首先，我打开了冰</tspan><tspan x="1848" dy="18.4">棍模具，我舔了一下，哇！那冰棍简直是太好</tspan><tspan x="1848" dy="18.4">吃了，有水果的甜香。接着我迫不及待地把可</tspan><tspan x="1848" dy="18.4">乐瓶用力往地上一摔，里面的汽水被摔成了粉</tspan><tspan x="1848" dy="18.4">碎，我把它倒进了碗里，一勺一勺地吃了起来</tspan><tspan x="1848" dy="18.4">，嗯，这个更美味，有汽水甜甜的味道，还融</tspan><tspan x="1848" dy="18.4">进了软糖的味道。</tspan></text></g>
<g id="n4f"><rect x="1840" y="2019" width="302" height="71.2" rx="8" class="f6"/><text class="t" x="1848" y="2041.5"><tspan x="1848">在夏日里吃冰棍，真是太爽了，不过现在已经</tspan><tspan x="1848" dy="18.4">变成了冬天，我等着下一个夏天的时候再用我</tspan><tspan x="1848" dy="18.4">的法宝。</tspan></text></g>

<!-- 篇6 children -->
<g id="n6a"><rect x="1840" y="2121" width="302" height="52.8" rx="8" class="f5"/><text class="t" x="1848" y="2143.5"><tspan x="1848">我相信大家都有拿手好戏，唱歌、画画、书法</tspan><tspan x="1848" dy="18.4">……可我的拿手好戏是跳舞。</tspan></text></g>
<g id="n6b"><rect x="1840" y="2204" width="302" height="163.2" rx="8" class="f5"/><text class="t" x="1848" y="2226.5"><tspan x="1848">你们别看我现在跳的这么优雅、好看，其实我</tspan><tspan x="1848" dy="18.4">在背后付出了很多努力——七岁时，我刚去</tspan><tspan x="1848" dy="18.4">培训班学跳舞，老师让我劈叉，可怎么也劈不</tspan><tspan x="1848" dy="18.4">下去。回到家，我让妈妈帮我往下压，痛的直</tspan><tspan x="1848" dy="18.4">尖叫。我想放弃的时候，我内心中就像有个小</tspan><tspan x="1848" dy="18.4">精灵，对我说："姚稳婷啊姚稳婷，要知道世</tspan><tspan x="1848" dy="18.4">界上所有的舞者也是从不会的到会的，所以你</tspan><tspan x="1848" dy="18.4">一定要坚持下去啊！"</tspan></text></g>
<g id="n6c"><rect x="1840" y="2397" width="302" height="200" rx="8" class="f5"/><text class="t" x="1848" y="2419.5"><tspan x="1848">从那一刻起，我就坚持跳舞，把课余的时间都</tspan><tspan x="1848" dy="18.4">用在了跳舞上，终于有一天我会劈叉了，我高</tspan><tspan x="1848" dy="18.4">兴极了，可没高兴多久，又发生了一件让我难</tspan><tspan x="1848" dy="18.4">过的事。某天，在家练习跳舞的时候，一个邻</tspan><tspan x="1848" dy="18.4">居看见了，讽刺地说："跳的一点也不好看，</tspan><tspan x="1848" dy="18.4">丑死了。"当时我很伤心，已经很努力了，为</tspan><tspan x="1848" dy="18.4">什么就是得不到别人的认可呢？每当这时，心</tspan><tspan x="1848" dy="18.4">中又会听到小精灵说的那句话，我有树立了信</tspan><tspan x="1848" dy="18.4">心。慢慢的我三年级了，还在学舞蹈，因为努</tspan><tspan x="1848" dy="18.4">力勤奋，我得到了大大小小的奖状。</tspan></text></g>
<g id="n6d"><rect x="1840" y="2628" width="302" height="52.8" rx="8" class="f5"/><text class="t" x="1848" y="2650.5"><tspan x="1848">在舞蹈班，我跳的比全班都好，真的非常开心</tspan><tspan x="1848" dy="18.4">和自豪。这就是我的拿手好戏——跳舞。</tspan></text></g>

<!-- 篇8 children -->
<g id="n8a"><rect x="1840" y="2710" width="302" height="89.6" rx="8" class="f4"/><text class="t" x="1848" y="2732.5"><tspan x="1848">刚开始学游泳的时候，我都不敢下到游泳池里</tspan><tspan x="1848" dy="18.4">去，生怕水太深，自己会沉下去。那时，爸爸</tspan><tspan x="1848" dy="18.4">妈妈总是鼓励我，正是因为他们的鼓励，我的</tspan><tspan x="1848" dy="18.4">游泳水平芝麻开花节节高。</tspan></text></g>
<g id="n8b"><rect x="1840" y="2830" width="302" height="108" rx="8" class="f4"/><text class="t" x="1848" y="2852.5"><tspan x="1848">那是一个烈日炎炎的早晨，我约了同学在游泳</tspan><tspan x="1848" dy="18.4">池玩耍，不一会儿，同学们鱼贯而出地进来了</tspan><tspan x="1848" dy="18.4">，同学们提议每一个人都做几个花样动作，我</tspan><tspan x="1848" dy="18.4">心花怒放，我的心里暗暗高兴，这可是我的拿</tspan><tspan x="1848" dy="18.4">手好戏啊，这些我可要大显身手了。</tspan></text></g>
<g id="n8c"><rect x="1840" y="2968" width="302" height="108" rx="8" class="f4"/><text class="t" x="1848" y="2990.5"><tspan x="1848">到我了，首先我先缓缓地往下蹲，然后，身子</tspan><tspan x="1848" dy="18.4">微微地向前倾斜，然后，纵身一跃，在空中做</tspan><tspan x="1848" dy="18.4">一个圈，我就像一只燕子那样轻盈，在空中划</tspan><tspan x="1848" dy="18.4">过一条美丽的弧线。大家连连拍手叫好，我心</tspan><tspan x="1848" dy="18.4">里得意极了，有的同学竟然让我再来一个。</tspan></text></g>
<g id="n8d"><rect x="1840" y="3106" width="302" height="108" rx="8" class="f4"/><text class="t" x="1848" y="3128.5"><tspan x="1848">我不介意，再一次地站在踏板上，努力回想着</tspan><tspan x="1848" dy="18.4">爸爸教我的高难度动作，然后，闭上眼睛跳了</tspan><tspan x="1848" dy="18.4">起来，我就像一条浑身发散着闪闪金光的鱼儿</tspan><tspan x="1848" dy="18.4">，吸引着同学们的眼球，跳完水后，台下传来</tspan><tspan x="1848" dy="18.4">一阵阵排山倒海的掌声。</tspan></text></g>
<g id="n8e"><rect x="1840" y="3243" width="302" height="89.6" rx="8" class="f4"/><text class="t" x="1848" y="3265.5"><tspan x="1848">天外有天，山外有山，游泳的道路只有起点，</tspan><tspan x="1848" dy="18.4">没有终点。游泳要练习的内容数不胜数，我相</tspan><tspan x="1848" dy="18.4">信，只要通过我不懈努力，我会如愿以偿地成</tspan><tspan x="1848" dy="18.4">为一名游泳运动员。</tspan></text></g>

<!-- 篇10 children -->
<g id="n10a"><rect x="1866" y="3363" width="302" height="52.8" rx="8" class="f3"/><text class="t" x="1874" y="3385.5"><tspan x="1874">他是一位篮球小将，在球队关键时候能挺身而</tspan><tspan x="1874" dy="18.4">出，他防守出色，进攻总是以他带球。</tspan></text></g>
<g id="n10b"><rect x="1866" y="3446" width="302" height="200" rx="8" class="f3"/><text class="t" x="1874" y="3468.5"><tspan x="1874">在东台市萌芽杯比赛中他带领头灶队参加此届</tspan><tspan x="1874" dy="18.4">比赛，在第一场与实小打第一节时，他抢到篮</tspan><tspan x="1874" dy="18.4">板慢慢地带球过半场，当他走到离三分线一米</tspan><tspan x="1874" dy="18.4">处时，他收起了球出手三分，球还在空中飞的</tspan><tspan x="1874" dy="18.4">时候，他就转身画去，对裁判做了个三指爆头</tspan><tspan x="1874" dy="18.4">的动作，果然不出所料，球"唰"地一声空心入</tspan><tspan x="1874" dy="18.4">网，当再次轮到他们的球权时，他利用队伍帮</tspan><tspan x="1874" dy="18.4">他的掩护，再次站上右侧45°角，他果断地出</tspan><tspan x="1874" dy="18.4">手三分，球"呼"地一声打在了板上，最后球"</tspan><tspan x="1874" dy="18.4">唰"地一声进了网。</tspan></text></g>
<g id="n10c"><rect x="1866" y="3677" width="302" height="218.4" rx="8" class="f3"/><text class="t" x="1874" y="3699.5"><tspan x="1874">第二场与唐洋的比赛中，他死缠着对手，对手</tspan><tspan x="1874" dy="18.4">连球都接不到，当比赛还剩最后两分半时，球</tspan><tspan x="1874" dy="18.4">权在他手上，他迎着对手做了一个假动作，一</tspan><tspan x="1874" dy="18.4">个变向晃晕了对手，在罚球线上出手两分，球</tspan><tspan x="1874" dy="18.4">进了！球进了！教练叫了一个暂停，教我们如</tspan><tspan x="1874" dy="18.4">何去防守，比赛继续，对手带球还没到三分线</tspan><tspan x="1874" dy="18.4">上，夏艺轩已上去逼他了，夏艺轩死缠着对手</tspan><tspan x="1874" dy="18.4">，并成功把球断掉，夏艺轩见身后没人，自己</tspan><tspan x="1874" dy="18.4">冲了去上篮，可惜！球打偏了，他紧跟身后，</tspan><tspan x="1874" dy="18.4">并将球补进，最后比分定在18：11。我们赢</tspan><tspan x="1874" dy="18.4">了！</tspan></text></g>
<g id="n10c1"><rect x="2196" y="3761" width="302" height="52.8" rx="8" class="f3"/><text class="t" x="2204" y="3783.5"><tspan x="2204">没错，那就人就是我，赛后队友一一和我拥抱</tspan><tspan x="2204" dy="18.4">，夸赞我，我们喜迎二连胜。</tspan></text></g>

<!-- 篇12 children -->
<g id="n12a"><rect x="1866" y="3927" width="302" height="181.6" rx="8" class="f2"/><text class="t" x="1874" y="3949.5"><tspan x="1874">每个人都有自己的拿手好戏，我也有，那就是</tspan><tspan x="1874" dy="18.4">——玩溜溜球。你不相信？告诉你，我在我</tspan><tspan x="1874" dy="18.4">们那一片玩溜溜球是数一数二的，每次比赛不</tspan><tspan x="1874" dy="18.4">是第一就是第二，我得第一名的机率是非常高</tspan><tspan x="1874" dy="18.4">的，同学一提起玩溜溜球，就提我的名字，他</tspan><tspan x="1874" dy="18.4">们害怕与我比赛。比如玩劲力旋风、地龙卷风</tspan><tspan x="1874" dy="18.4">，天龙卷风、瞬雷出击，这些都属于旋转技术</tspan><tspan x="1874" dy="18.4">，我熟练无比，一比赛，常常让对手输得灰头</tspan><tspan x="1874" dy="18.4">土脸。</tspan></text></g>
<g id="n12b"><rect x="1866" y="4139" width="302" height="144.8" rx="8" class="f2"/><text class="t" x="1874" y="4161.5"><tspan x="1874">那一次，我们又举行了一次溜溜球大赛。我们</tspan><tspan x="1874" dy="18.4">都拿出自己的溜溜球，我的溜溜球是红色冰焰</tspan><tspan x="1874" dy="18.4">，他们的溜溜球都换了新款，有的是冰焰，有</tspan><tspan x="1874" dy="18.4">的是冰凌剑，还有的是夜魄，只有我的溜溜球</tspan><tspan x="1874" dy="18.4">没有变，一直是红色的冰焰。我们分为三个等</tspan><tspan x="1874" dy="18.4">级：晋级、中级、高级，我就是属于高级的人</tspan><tspan x="1874" dy="18.4">物。</tspan></text></g>
<g id="n12c"><rect x="1866" y="4314" width="302" height="108" rx="8" class="f2"/><text class="t" x="1874" y="4336.5"><tspan x="1874">不过几轮，决赛来了，我如愿以偿地进了决赛</tspan><tspan x="1874" dy="18.4">。不一会儿，一个人出局了，就剩下我和那个</tspan><tspan x="1874" dy="18.4">死对头了。我微微一笑猛然进攻，"咚！"我们</tspan><tspan x="1874" dy="18.4">两个人的溜溜球都不旋转了，只好再来一盘。</tspan><tspan x="1874" dy="18.4">最后，我输了，我太骄傲了，唉！</tspan></text></g>
<g id="n12d"><rect x="1866" y="4451" width="302" height="52.8" rx="8" class="f2"/><text class="t" x="1874" y="4473.5"><tspan x="1874">多次赛溜溜球经历告诉我一道理："谦虚使人</tspan><tspan x="1874" dy="18.4">进步，骄傲使人落后。"</tspan></text></g>
</g>
</svg>
